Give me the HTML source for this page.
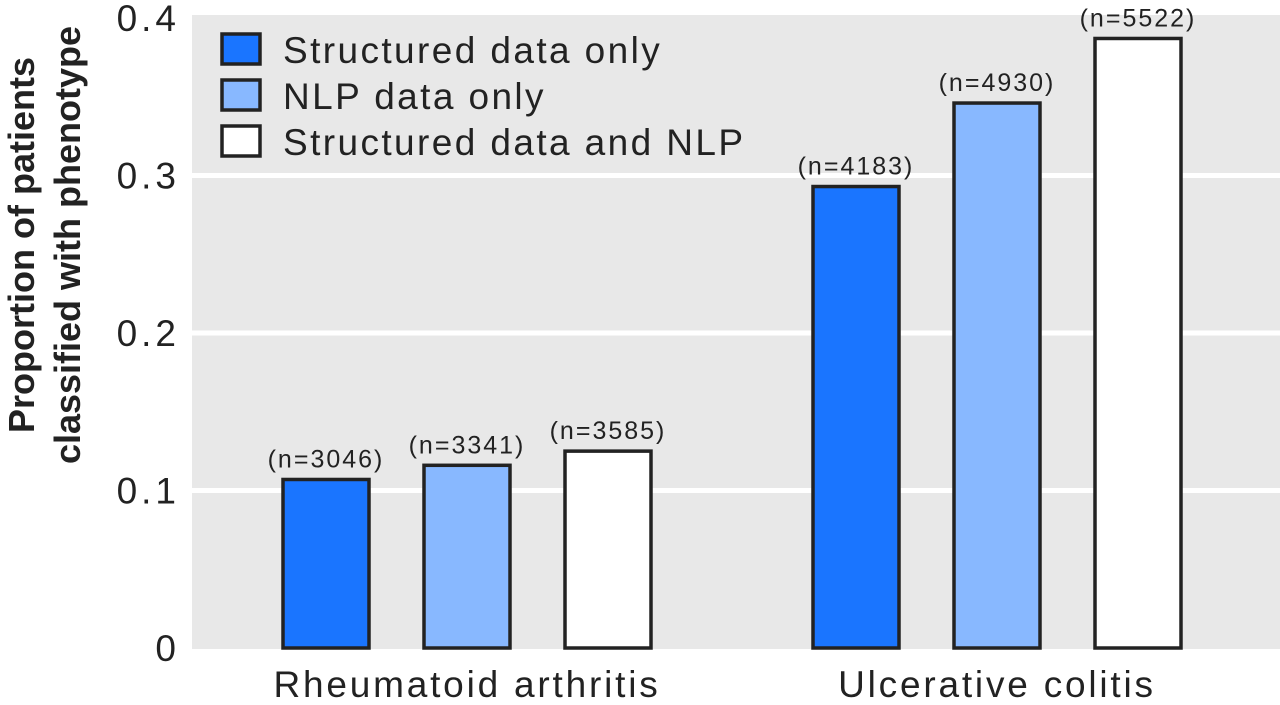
<!DOCTYPE html>
<html><head><meta charset="utf-8"><style>
body{margin:0;background:#fff;width:1280px;height:700px;overflow:hidden;font-family:"Liberation Sans",sans-serif}
</style></head><body>
<svg id="c" width="1280" height="700" style="font-family:'Liberation Sans',sans-serif"></svg>
<script>
const categories=["Rheumatoid arthritis","Ulcerative colitis"];
const seriesNames=["Structured data only","NLP data only","Structured data and NLP"];
const structuredVals=[0.107,0.293];
const nlpVals=[0.116,0.346];
const bothVals=[0.125,0.387];
const structuredN=["(n=3046)","(n=4183)"];
const nlpN=["(n=3341)","(n=4930)"];
const bothN=["(n=3585)","(n=5522)"];
const yTicks=[0,0.1,0.2,0.3,0.4];
const yTickLabels=["0","0.1","0.2","0.3","0.4"];
const colors=["#1a75ff","#88b8ff","#ffffff"];
const svg=document.getElementById('c');
const NS="http://www.w3.org/2000/svg";
function mk(t,a,p){const e=document.createElementNS(NS,t);for(const k in a)e.setAttribute(k,a[k]);(p||svg).appendChild(e);return e;}
const y0=648,pxPer=1575;
const y=v=>y0-v*pxPer;
const groupStart=[283,813],barStep=[141,141],barW=86;
const bg=mk('rect',{x:192,y:15,width:1088,height:y0-15+1,fill:'#e8e8e8'});


yTicks.forEach((t,i)=>{
  if(t>0&&t<0.4){const g=mk('rect',{x:192,y:y(t)-2.5,width:1088,height:5,fill:'#fff'});
  
  }
  const l=mk('text',{x:180,y:y(t)+13,'text-anchor':'end','font-size':37,'letter-spacing':4,fill:'#222'});l.textContent=yTickLabels[i];
  
  
});
const yt=mk('text',{transform:'translate(42,245) rotate(-90)','text-anchor':'middle','font-size':36,'font-weight':'bold',fill:'#222'});


const t1=mk('tspan',{x:0,dy:-8},yt);t1.textContent="Proportion of patients";
const t2=mk('tspan',{x:0,dy:46},yt);t2.textContent="classified with phenotype";
const series=[structuredVals,nlpVals,bothVals],ns=[structuredN,nlpN,bothN];
categories.forEach((c,ci)=>{
  series.forEach((s,si)=>{
    const x=groupStart[ci]+si*barStep[ci];
    const r=mk('rect',{x:x,y:y(s[ci]),width:barW,height:y0-y(s[ci]),fill:colors[si],stroke:'#222','stroke-width':3.5});
    
    
    const n=mk('text',{x:x+barW/2,y:y(s[ci])-12,'text-anchor':'middle','font-size':25,'letter-spacing':2,fill:'#222'});n.textContent=ns[si][ci];
    
    
  });
  const cl=mk('text',{x:groupStart[ci]+barStep[ci]+barW/2,y:697,'text-anchor':'middle','font-size':37,'letter-spacing':2.8,fill:'#222'});cl.textContent=c;
  
  
});
seriesNames.forEach((n,i)=>{
  const yy=34+i*46;
  const b=mk('rect',{x:222,y:yy,width:38,height:30,fill:colors[i],stroke:'#222','stroke-width':3.5});
  
  
  const t=mk('text',{x:283,y:yy+29,'font-size':37,'letter-spacing':2.4,fill:'#222'});t.textContent=n;
  
  
});
</script>
</body></html>
